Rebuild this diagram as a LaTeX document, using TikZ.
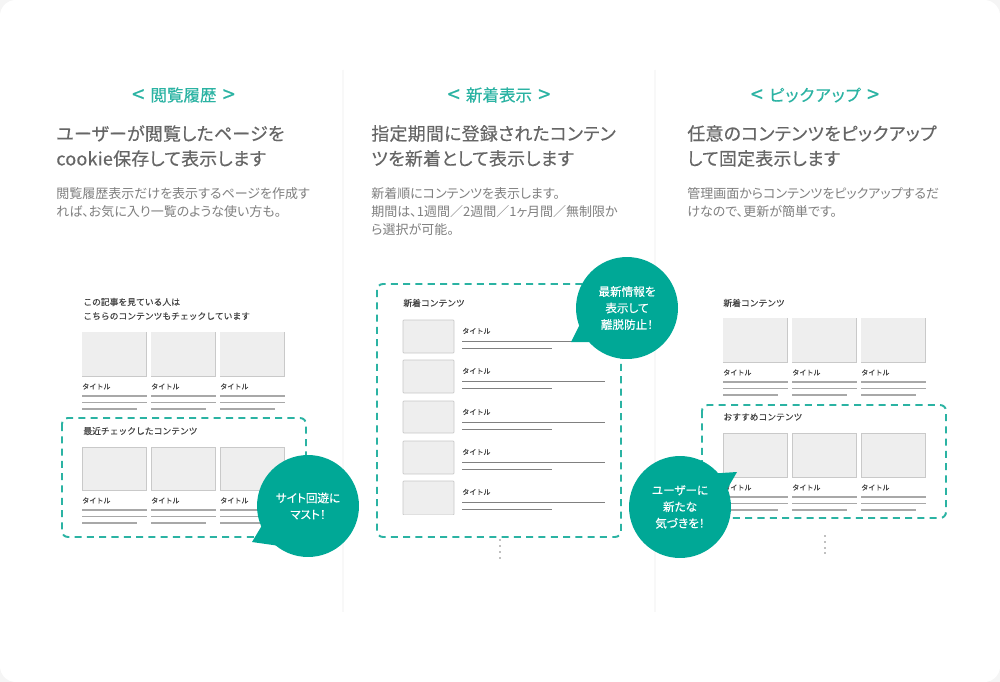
\documentclass[tikz,border=0pt]{standalone}
\usepackage{fontspec}
\setmainfont[RawFeature=+palt]{Noto Sans CJK JP}
\newfontfamily\semifont[RawFeature={+palt},FakeBold=0.35]{Noto Sans CJK JP}
\newfontfamily\titlefont[RawFeature={+palt},FakeBold=0.35,LetterSpace=1.5]{Noto Sans CJK JP}
\newfontfamily\tinyfont[FakeBold=0.25]{Noto Sans CJK JP}
\usepackage{xcolor}
\usetikzlibrary{calc}

\definecolor{pagegray}{HTML}{F5F5F5}
\definecolor{rulegray}{HTML}{F8F8F8}
\definecolor{tealmain}{HTML}{00A896}
\definecolor{tealdash}{HTML}{2BB3A3}
\definecolor{thumbgray}{HTML}{EEEEEE}
\definecolor{thumbedge}{HTML}{C9C9C9}
\definecolor{linegray}{HTML}{A8A8A8}
\definecolor{titlegray}{HTML}{666666}
\definecolor{bodygray}{HTML}{7F7F7F}
\definecolor{smallgray}{HTML}{444444}

\tikzset{
  heading/.style={text=tealdash,font=\fontsize{9.4pt}{11pt}\semifont,inner sep=0pt},
  titletext/.style={anchor=west,align=left,text=titlegray,inner sep=0pt,font=\fontsize{10.2pt}{14.2pt}\titlefont},
  bodytext/.style={anchor=north west,align=left,text=bodygray,inner sep=0pt,font=\fontsize{7.4pt}{10.2pt}\selectfont},
  blocktext/.style={anchor=west,align=left,text=smallgray,inner sep=0pt,font=\fontsize{5pt}{8pt}\tinyfont},
  cardtext/.style={anchor=west,text=smallgray,inner sep=0pt,font=\fontsize{4pt}{5pt}\tinyfont},
  bubble/.style={circle,fill=tealmain,text=white,inner sep=0pt,minimum size=2.04cm,align=center,font=\fontsize{6.6pt}{9.4pt}\semifont},
  dashbox/.style={draw=tealdash,line width=1.1pt,dash pattern=on 4pt off 3pt,rounded corners=3.4pt},
  thumb/.style={fill=thumbgray,draw=thumbedge,line width=.4pt},
  softthumb/.style={thumb/.append style={draw=thumbgray}},
  thumbrim/.style={draw=thumbedge,line width=.5pt},
  textline/.style={draw=linegray,line width=.6pt},
  thinline/.style={draw=gray,line width=.4pt},
  gapdot/.style={circle,fill=gray,inner sep=0pt,minimum size=1.1pt},
}

% heading with its two chevrons
\newcommand{\headtext}[1]{\raisebox{-.6pt}{\fontsize{12.5pt}{11pt}\selectfont<}\hspace{3.5pt}#1\hspace{3.5pt}\raisebox{-.6pt}{\fontsize{12.5pt}{11pt}\selectfont>}}
% one card: left x, top y of picture, bottom y of picture
\newcommand{\cardblock}[4]{
  \draw[thumb] (#1,#2) rectangle ($(#1,#3)+(64.5,0)$);
  \draw[thumbrim] (#1+64.5,#2) |- (#1,#3);
  \node[cardtext] (#4) at (#1,#3+10.5) {タイトル};
  \draw[textline] (#1,#3+20) -- ++(64.5,0);
  \draw[textline] (#1,#3+26.5) -- ++(64.5,0);
  \draw[textline] (#1,#3+33) -- ++(55,0);
}
% one row of the list: top y of picture
\newcommand{\listrow}[3]{
  \draw[thumb,rounded corners=.5pt] (403,#1) rectangle (454,#2);
  \node[cardtext] (#3) at (462,#1+11) {タイトル};
  \draw[thinline] (462,#1+21) -- (605,#1+21);
  \draw[thinline] (462,#1+28) -- (552,#1+28);
}

\begin{document}
\begin{tikzpicture}[x=0.02cm,y=-0.02cm]
\useasboundingbox (0,0) rectangle (1000,682);

% Page and card
\fill[pagegray] (0,0) rectangle (1000,682);
\fill[white,rounded corners=9pt] (0,0) rectangle (1000,682);

% Column rules
\draw[rulegray,line width=.6pt] (343,70) -- (343,612);
\draw[rulegray,line width=.6pt] (655,70) -- (655,612);

% Headings
\node[heading] (headA) at (183.5,95) {\headtext{閲覧履歴}};
\node[heading] (headB) at (499,95) {\headtext{新着表示}};
\node[heading] (headC) at (815,95) {\headtext{\addfontfeature{LetterSpace=6}ピックアップ}};

% Titles
\node[titletext] (titleA) at (56,146) {ユーザーが閲覧したページを\\cookie保存して表示します};
\node[titletext] (titleB) at (371,146) {指定期間に登録されたコンテン\\ツを新着として表示します};
\node[titletext] (titleC) at (687,146) {任意のコンテンツをピックアップ\\して固定表示します};

% Descriptions
\node[bodytext] (bodyA) at (56,187) {閲覧履歴表示だけを表示するページを作成す\\れば、お気に入り一覧のような使い方も。};
\node[bodytext] (bodyB) at (371,187) {新着順にコンテンツを表示します。\\期間は、1週間／2週間／1ヶ月間／無制限か\\ら選択が可能。};
\node[bodytext] (bodyC) at (687,187) {管理画面からコンテンツをピックアップするだ\\けなので、更新が簡単です。};

% Left column
\node[blocktext] (blockA) at (83,309) {この記事を見ている人は\\こちらのコンテンツもチェックしています};
\begin{scope}[softthumb]
\cardblock{82}{332}{376}{capA}
\cardblock{151}{332}{376}{capB}
\cardblock{220}{332}{376}{capC}
\end{scope}
\draw[dashbox] (62,418) rectangle (306,537);
\node[blocktext] (blockB) at (83,431) {最近チェックしたコンテンツ};
\cardblock{82}{447}{490}{capD}
\cardblock{151}{447}{490}{capE}
\cardblock{220}{447}{490}{capF}
\fill[tealmain] (252,542) -- (264,522) -- (280,546) -- cycle;
\node[bubble] (bubA) at (308,506) {サイト回遊に\\マスト！};

% Middle column
\draw[dashbox] (377,284) rectangle (621,537);
\node[blocktext] (blockC) at (403,303) {新着コンテンツ};
\listrow{320}{353}{rowA}
\listrow{360}{393}{rowB}
\listrow{401}{433}{rowC}
\listrow{441}{474}{rowD}
\listrow{481}{515}{rowE}
\fill[white] (400,515.3) rectangle (460,518);
\fill[tealmain] (571,342) -- (582,320) -- (600,342) -- cycle;
\node[bubble] (bubB) at (627,308) {最新情報を\\表示して\\離脱防止！};
\foreach \n/\y in {a/540,b/546,c/552,d/558}
  \node[gapdot] (dotB\n) at (500,\y) {};

% Right column
\node[blocktext] (blockD) at (723,303) {新着コンテンツ};
\begin{scope}[softthumb]
\cardblock{723}{318}{362}{capG}
\cardblock{792}{318}{362}{capH}
\cardblock{861}{318}{362}{capI}
\end{scope}
\draw[dashbox] (702,405) rectangle (946,518);
\node[blocktext] (blockE) at (723,417) {おすすめコンテンツ};
\cardblock{723}{433}{477}{capJ}
\cardblock{792}{433}{477}{capK}
\cardblock{861}{433}{477}{capL}
\fill[tealmain] (737,472) -- (706,474) -- (722,498) -- cycle;
\node[bubble] (bubC) at (680,507) {ユーザーに\\新たな\\気づきを！};
\foreach \n/\y in {a/536,b/542,c/548,d/553}
  \node[gapdot] (dotC\n) at (825,\y) {};
\end{tikzpicture}
\end{document}
